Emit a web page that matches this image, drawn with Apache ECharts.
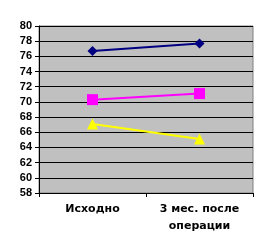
<!DOCTYPE html>
<html><head><meta charset="utf-8">
<script src="https://cdn.jsdelivr.net/npm/echarts@6/dist/echarts.min.js"></script>
<style>html,body{margin:0;padding:0;background:#fff}#c{width:269px;height:252px}</style>
</head><body><div id="c"></div>
<script>
const categories = ['Исходно', '3 мес. после\nоперации'];
const seriesBlue = [76.7, 77.7];
const seriesMagenta = [70.3, 71.1];
const seriesYellow = [67.1, 65.1];
const yMin = 58, yMax = 80, yStep = 2;

const chart = echarts.init(document.getElementById('c'), null, {renderer: 'canvas'});
const yFont = {fontFamily: 'Liberation Sans, Arial, sans-serif', fontWeight: 'bold', fontSize: 11, color: '#000'};
const xFont = {fontFamily: 'DejaVu Sans, sans-serif', fontWeight: 'bold', fontSize: 11, color: '#000'};
chart.setOption({
  animation: false,
  backgroundColor: '#fff',
  grid: {left: 39, top: 26, right: 16, bottom: 59, show: true, backgroundColor: '#c0c0c0', borderColor: '#808080', borderWidth: 1},
  xAxis: {
    type: 'category', data: categories, boundaryGap: true,
    axisLine: {lineStyle: {color: '#000', width: 1}},
    axisTick: {show: true, length: 4, lineStyle: {color: '#000'}},
    axisLabel: Object.assign({margin: 8, lineHeight: 17}, xFont),
    splitLine: {show: false}
  },
  yAxis: {
    type: 'value', min: yMin, max: yMax, interval: yStep,
    axisLine: {show: true, lineStyle: {color: '#000', width: 1}},
    axisTick: {show: true, length: 4, lineStyle: {color: '#000'}},
    axisLabel: Object.assign({margin: 7}, yFont),
    splitLine: {show: true, lineStyle: {color: '#000', width: 1}}
  },
  series: [
    {type: 'line', data: seriesBlue, symbol: 'diamond', symbolSize: 10, lineStyle: {color: '#000080', width: 2}, itemStyle: {color: '#000080'}},
    {type: 'line', data: seriesMagenta, symbol: 'rect', symbolSize: 11, lineStyle: {color: '#ff00ff', width: 2}, itemStyle: {color: '#ff00ff'}},
    {type: 'line', data: seriesYellow, symbol: 'triangle', symbolSize: 11, lineStyle: {color: '#ffff00', width: 2}, itemStyle: {color: '#ffff00'}}
  ]
});
</script></body></html>
